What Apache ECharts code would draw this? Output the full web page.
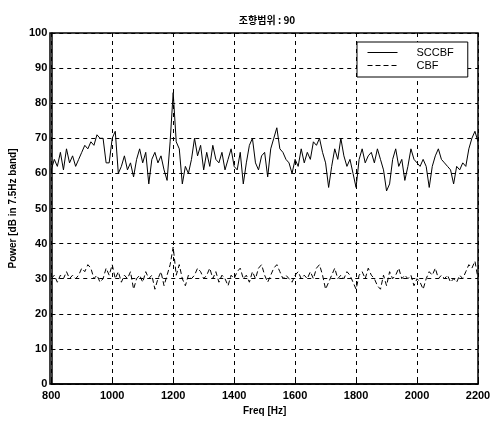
<!DOCTYPE html>
<html><head><meta charset="utf-8">
<script src="https://cdn.jsdelivr.net/npm/echarts@6/dist/echarts.min.js"></script>
<style>html,body{margin:0;padding:0;background:#fff}#c{width:498px;height:425px}</style>
</head><body><div id="c"></div>
<script>
const freq = [800,810,820,830,840,850,860,870,880,890,900,910,920,930,940,950,960,970,980,990,
1000,1010,1020,1030,1040,1050,1060,1070,1080,1090,1100,1110,1120,1130,1140,1150,1160,1170,1180,1190,
1200,1210,1220,1230,1240,1250,1260,1270,1280,1290,1300,1310,1320,1330,1340,1350,1360,1370,1380,1390,
1400,1410,1420,1430,1440,1450,1460,1470,1480,1490,1500,1510,1520,1530,1540,1550,1560,1570,1580,1590,
1600,1610,1620,1630,1640,1650,1660,1670,1680,1690,1700,1710,1720,1730,1740,1750,1760,1770,1780,1790,
1800,1810,1820,1830,1840,1850,1860,1870,1880,1890,1900,1910,1920,1930,1940,1950,1960,1970,1980,1990,
2000,2010,2020,2030,2040,2050,2060,2070,2080,2090,2100,2110,2120,2130,2140,2150,2160,2170,2180,2190,2200];
const sccbf = [61,64,62,66,61,67,63,65,62,64,66,68,67,69,68,71,70,70,63,63,
70,72,60,62,65,61,63,59,64,67,63,66,57,64,66,63,65,61,58,69,
83,69,67,57,62,60,64,70,65,68,61,66,62,68,64,63,66,61,64,67,
62,61,66,57,63,68,70,63,61,65,66,59,67,70,73,67,66,64,63,60,
64,62,67,63,66,64,69,68,70,66,63,56,62,67,64,70,65,62,64,60,
56,64,67,63,65,66,63,67,64,61,55,57,64,67,62,64,58,62,67,64,
63,62,64,62,56,62,65,67,64,63,62,61,57,62,61,63,62,67,70,72,69];
const cbf = [30,31,29,31,30,32,30,31,30,31,33,32,34,33,30,31,29,30,33,31,
34,30,32,29,31,30,32,27,30,31,29,32,30,31,27,30,32,28,31,34,
39,31,34,30,28,31,30,31,33,32,30,31,33,30,32,29,31,30,28,31,
30,32,33,30,31,29,32,30,33,34,31,29,31,33,34,32,30,31,30,29,
31,32,30,31,30,32,30,33,34,31,27,29,31,33,30,31,30,32,31,29,
27,31,32,30,33,31,30,28,27,31,28,32,30,31,33,30,31,30,31,28,
30,29,27,30,32,31,33,30,31,30,31,29,30,29,31,30,32,34,33,35,30];
const xTicks = [800,1000,1200,1400,1600,1800,2000,2200];
const yTicks = [0,10,20,30,40,50,60,70,80,90,100];
const titleText = '조향범위 : 90';
const seriesNames = ['SCCBF','CBF'];

const chart = echarts.init(document.getElementById('c'));
const font = 'Liberation Sans, Arial, sans-serif';
const splitDash = {show:true, lineStyle:{color:'#000', type:[4,4], width:1}};
chart.setOption({
  animation:false,
  backgroundColor:'#fff',
  title:{text:titleText, left:262, top:10, textAlign:'center',
    textStyle:{fontSize:10, fontWeight:'bold', color:'#000', fontFamily:'Noto Sans CJK KR'}},
  legend:{data:seriesNames, orient:'vertical', left:357, top:42, itemWidth:30, itemHeight:8, itemGap:2,
    padding:[5,14,6,10], borderColor:'#000', borderWidth:1, backgroundColor:'#fff',
    itemStyle:{color:'transparent', borderWidth:0, opacity:0},
    lineStyle:{width:1},
    textStyle:{fontSize:11, color:'#000', fontFamily:font, padding:[0,0,0,14]}},
  grid:{left:50, right:20, top:33, bottom:41},
  xAxis:{type:'value', min:800, max:2200, interval:200,
    name:'Freq [Hz]', nameLocation:'middle', nameGap:20,
    nameTextStyle:{fontSize:10, fontWeight:'bold', color:'#000', fontFamily:font},
    axisLine:{show:true, onZero:false, lineStyle:{color:'#000', width:1.5}},
    axisTick:{show:true, inside:true, length:4, lineStyle:{color:'#000'}},
    axisLabel:{fontSize:11, fontWeight:'bold', color:'#000', fontFamily:font, margin:6,
      formatter:v=>xTicks.includes(v)?String(v):''},
    splitLine:splitDash},
  yAxis:{type:'value', min:0, max:100, interval:10,
    name:'Power [dB in 7.5Hz band]', nameLocation:'middle', nameGap:30,
    nameTextStyle:{fontSize:10, fontWeight:'bold', color:'#000', fontFamily:font},
    axisLine:{show:true, lineStyle:{color:'#000', width:1.5}},
    axisTick:{show:true, inside:true, length:4, lineStyle:{color:'#000'}},
    axisLabel:{fontSize:11, fontWeight:'bold', color:'#000', fontFamily:font, margin:4,
      formatter:v=>yTicks.includes(v)?String(v):''},
    splitLine:splitDash},
  graphic:[{type:'rect', shape:{x:50, y:33, width:428, height:351},
    style:{fill:'none', stroke:'#000', lineWidth:1.5}, silent:true, z:50}],
  series:[
    {name:seriesNames[0], type:'line', symbol:'none', data:freq.map((f,i)=>[f,sccbf[i]]),
      lineStyle:{color:'#000', width:1}, itemStyle:{color:'#000'}},
    {name:seriesNames[1], type:'line', symbol:'none', data:freq.map((f,i)=>[f,cbf[i]]),
      lineStyle:{color:'#000', width:1, type:[5,3]}, itemStyle:{color:'#000'}}
  ]
});
</script></body></html>
